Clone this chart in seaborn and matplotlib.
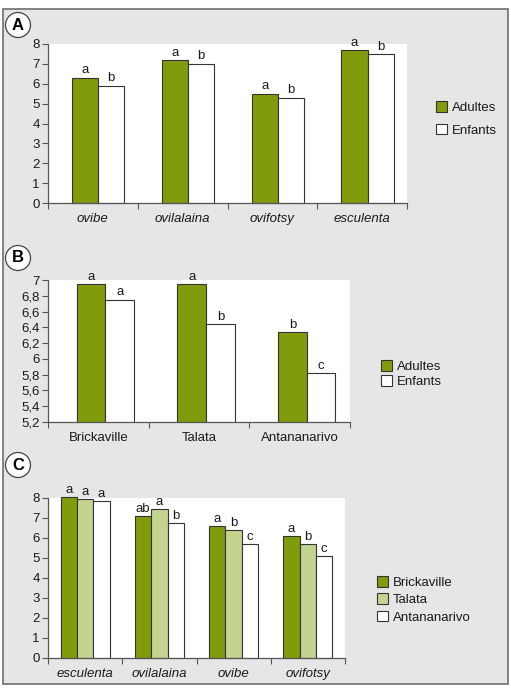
import numpy as np
import pandas as pd
import seaborn as sns
import matplotlib.pyplot as plt
from matplotlib.patches import Rectangle, Patch

# Panel A : cultivars, adults vs children
a_categories = ["ovibe", "ovilalaina", "ovifotsy", "esculenta"]
a_adultes = [6.3, 7.2, 5.5, 7.7]
a_enfants = [5.9, 7.0, 5.3, 7.5]
a_letters_adultes = ["a", "a", "a", "a"]
a_letters_enfants = ["b", "b", "b", "b"]

# Panel B : sites, adults vs children
b_categories = ["Brickaville", "Talata", "Antananarivo"]
b_adultes = [6.95, 6.95, 6.34]
b_enfants = [6.75, 6.44, 5.82]
b_letters_adultes = ["a", "a", "b"]
b_letters_enfants = ["a", "b", "c"]
b_ticks = [5.2, 5.4, 5.6, 5.8, 6.0, 6.2, 6.4, 6.6, 6.8, 7.0]

# Panel C : cultivars by site
c_categories = ["esculenta", "ovilalaina", "ovibe", "ovifotsy"]
c_brickaville = [8.05, 7.1, 6.6, 6.1]
c_talata = [7.95, 7.45, 6.4, 5.7]
c_antananarivo = [7.85, 6.75, 5.7, 5.1]
c_letters = {
    "Brickaville": ["a", "ab", "a", "a"],
    "Talata": ["a", "a", "b", "b"],
    "Antananarivo": ["a", "b", "c", "c"],
}

DARK = "#809c0c"
LIGHT = "#c4d38f"
WHITE = "#ffffff"
EDGE = "#333333"
SPINE = "#555555"
TXT = "#1a1a1a"
FS = 9.5

sns.set_theme(style="white")
plt.rcParams["font.family"] = ["Liberation Sans", "DejaVu Sans"]

W, H = 511, 698
fig = plt.figure(figsize=(W / 100, H / 100), dpi=100)
fig.patch.set_facecolor("white")

# grey framed background
fig.patches.append(Rectangle((3 / W, 1 - 684 / H), 505 / W, 675 / H, transform=fig.transFigure,
                             facecolor="#e6e6e6", edgecolor="#6e6e6e", linewidth=1.2, zorder=-5))


def make_ax(left, top, right, bottom):
    return fig.add_axes([left / W, 1 - bottom / H, (right - left) / W, (bottom - top) / H])


def style_ax(ax, ncat, ylim, yticks, fmt=None):
    ax.set_facecolor("white")
    ax.set_ylim(*ylim)
    ax.set_xlim(-0.5, ncat - 0.5)
    ax.set_yticks(yticks)
    if fmt:
        ax.set_yticklabels([fmt(v) for v in yticks])
    ax.set_xticks(np.arange(-0.5, ncat, 1.0), minor=True)
    ax.tick_params(axis="x", which="major", length=0, pad=7, labelsize=FS, colors=TXT)
    ax.tick_params(axis="x", which="minor", length=4, width=0.8, color=SPINE, direction="out", bottom=True)
    ax.tick_params(axis="y", length=4, width=0.8, color=SPINE, direction="out", left=True,
                   labelsize=FS, colors=TXT, pad=2)
    for s in ["top", "right"]:
        ax.spines[s].set_visible(False)
    for s in ["left", "bottom"]:
        ax.spines[s].set_color(SPINE)
        ax.spines[s].set_linewidth(0.9)
    ax.set_xlabel("")
    ax.set_ylabel("")
    if ax.get_legend() is not None:
        ax.get_legend().remove()


def nudge_bars(ax, dx):
    # the original groups sit slightly right of the category centre
    for p in ax.patches:
        p.set_x(p.get_x() + dx)


def add_letters(ax, letters_by_level, unclip=False):
    for cont, letters in zip(ax.containers, letters_by_level):
        texts = ax.bar_label(cont, labels=letters, padding=1, fontsize=FS, color=TXT)
        for t in texts:
            t.set_annotation_clip(False)
    if unclip:
        for p in ax.patches:
            p.set_clip_on(False)


def circle_label(txt, x, y):
    fig.text(x / W, 1 - y / H, txt, ha="center", va="center", fontsize=12, fontweight="bold",
             color="black",
             bbox=dict(boxstyle="circle,pad=0.3", facecolor="white", edgecolor="#444444", linewidth=0.9))


def legend(ax, labels, colors, x, y, spacing):
    handles = [Patch(facecolor=c, edgecolor=EDGE, linewidth=0.8) for c in colors]
    leg = fig.legend(handles, labels, loc="upper left", bbox_to_anchor=(x / W, 1 - y / H), frameon=False,
                     fontsize=FS, handlelength=0.85, handleheight=0.85, handletextpad=0.35,
                     labelspacing=spacing, borderaxespad=0, borderpad=0)
    for t in leg.get_texts():
        t.set_color(TXT)


# ---- Panel A
df_a = pd.DataFrame({
    "cat": a_categories * 2,
    "val": a_adultes + a_enfants,
    "grp": ["Adultes"] * 4 + ["Enfants"] * 4,
})
ax_a = make_ax(48, 44, 407, 203)
sns.barplot(data=df_a, x="cat", y="val", hue="grp", palette=[DARK, WHITE], width=0.58,
            edgecolor=EDGE, linewidth=0.8, ax=ax_a, saturation=1)
style_ax(ax_a, 4, (0, 8), range(0, 9))
for lab in ax_a.get_xticklabels():
    lab.set_style("italic")
nudge_bars(ax_a, 0.06)
add_letters(ax_a, [a_letters_adultes, a_letters_enfants], unclip=True)
circle_label("A", 18, 25)
legend(ax_a, ["Adultes", "Enfants"], [DARK, WHITE], 436, 101, 0.75)

# ---- Panel B
df_b = pd.DataFrame({
    "cat": b_categories * 2,
    "val": b_adultes + b_enfants,
    "grp": ["Adultes"] * 3 + ["Enfants"] * 3,
})
ax_b = make_ax(48, 280, 350, 422)
sns.barplot(data=df_b, x="cat", y="val", hue="grp", palette=[DARK, WHITE], width=0.57,
            edgecolor=EDGE, linewidth=0.8, ax=ax_b, saturation=1)
style_ax(ax_b, 3, (5.2, 7.0), b_ticks, fmt=lambda v: ("%g" % round(v, 1)).replace(".", ","))
nudge_bars(ax_b, 0.07)
add_letters(ax_b, [b_letters_adultes, b_letters_enfants])
circle_label("B", 18, 258)
legend(ax_b, ["Adultes", "Enfants"], [DARK, WHITE], 381, 360, 0.2)

# ---- Panel C
sites = ["Brickaville", "Talata", "Antananarivo"]
df_c = pd.DataFrame({
    "cat": c_categories * 3,
    "val": c_brickaville + c_talata + c_antananarivo,
    "grp": [s for s in sites for _ in c_categories],
})
ax_c = make_ax(48, 498, 345, 658)
sns.barplot(data=df_c, x="cat", y="val", hue="grp", palette=[DARK, LIGHT, WHITE], width=0.66,
            edgecolor=EDGE, linewidth=0.8, ax=ax_c, saturation=1)
style_ax(ax_c, 4, (0, 8), range(0, 9))
for lab in ax_c.get_xticklabels():
    lab.set_style("italic")
add_letters(ax_c, [c_letters[s] for s in sites], unclip=True)
circle_label("C", 18, 465)
legend(ax_c, sites, [DARK, LIGHT, WHITE], 377, 576, 0.35)

fig.savefig("out.png", dpi=100)
